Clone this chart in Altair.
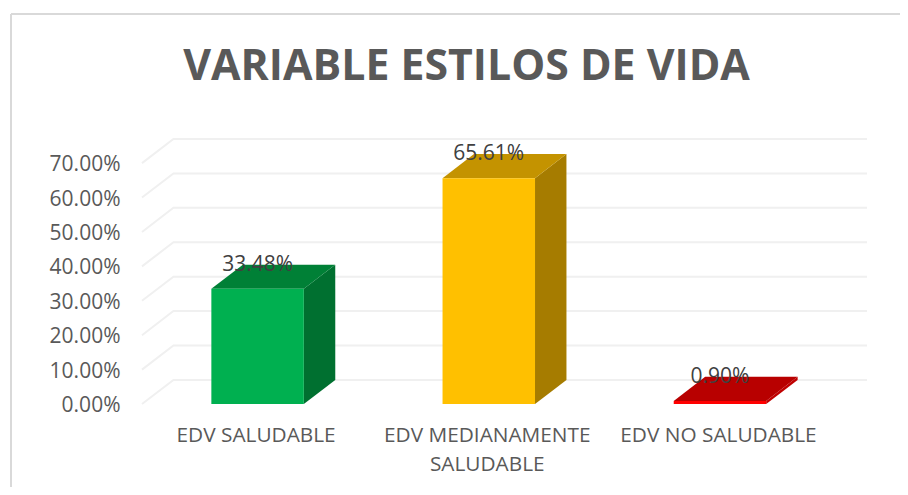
import altair as alt
import pandas as pd

TITLE = "VARIABLE ESTILOS DE VIDA"
categories = [["EDV SALUDABLE"], ["EDV MEDIANAMENTE", "SALUDABLE"], ["EDV NO SALUDABLE"]]
values = [0.3348, 0.6561, 0.0090]
front_colors = ["#00B050", "#FFC000", "#FF0000"]
top_colors = ["#008036", "#C49300", "#B80000"]
side_colors = ["#007030", "#A67C00", "#C00000"]
y_ticks = [0.0, 0.1, 0.2, 0.3, 0.4, 0.5, 0.6, 0.7]

# 3-D look: depth of the floor expressed in axis units
DEPTH_X = 0.136
DEPTH_Y = 0.07
HALF = 0.2
X_MIN, X_MAX = -0.5, 2.5 + DEPTH_X
Y_MAX = 0.70 + DEPTH_Y

xs = alt.Scale(domain=[X_MIN, X_MAX], nice=False, zero=False)
ys = alt.Scale(domain=[0, Y_MAX], nice=False, zero=False)

grid_rows = []
for t in y_ticks:
    grid_rows += [
        {"t": t, "x": X_MIN, "y": t},
        {"t": t, "x": X_MIN + DEPTH_X, "y": t + DEPTH_Y},
        {"t": t, "x": X_MAX, "y": t + DEPTH_Y},
    ]

front, faces, labels = [], [], []
for i, v in enumerate(values):
    x0, x1 = i - HALF, i + HALF
    front.append({"x": x0, "x2": x1, "y": 0, "y2": v, "c": front_colors[i]})
    faces += [
        {"f": f"s{i}", "c": side_colors[i], "x": x1, "y": 0, "y2": v},
        {"f": f"s{i}", "c": side_colors[i], "x": x1 + DEPTH_X, "y": DEPTH_Y, "y2": v + DEPTH_Y},
        {"f": f"t{i}", "c": top_colors[i], "x": x0, "y": v, "y2": v},
        {"f": f"t{i}", "c": top_colors[i], "x": x0 + DEPTH_X, "y": v, "y2": v + DEPTH_Y},
        {"f": f"t{i}", "c": top_colors[i], "x": x1, "y": v, "y2": v + DEPTH_Y},
        {"f": f"t{i}", "c": top_colors[i], "x": x1 + DEPTH_X, "y": v + DEPTH_Y, "y2": v + DEPTH_Y},
    ]
    labels.append({"x": i, "y": v + DEPTH_Y, "v": v})

label_expr = "[" + ",".join(str(c) for c in categories) + "][datum.value]"

x_axis = alt.Axis(
    values=[0, 1, 2], labelExpr=label_expr, domain=False, ticks=False, grid=False,
    labelFontSize=20.8, labelFont="Open Sans", labelColor="#595959",
    labelPadding=21, labelLineHeight=29, labelOverlap=False, labelBound=False, labelFlush=False,
    labelAngle=0, labelLimit=400, labelOffset=-2,
)
y_axis = alt.Axis(
    values=y_ticks, format=".2%", domain=False, ticks=False, grid=False,
    labelFontSize=21, labelFont="Open Sans", labelColor="#595959",
    labelPadding=22, labelOverlap=False, labelOffset=1.5,
)
X = alt.X("x:Q", scale=xs, title=None, axis=x_axis)
Y = alt.Y("y:Q", scale=ys, title=None, axis=y_axis)

grid_layer = (
    alt.Chart(pd.DataFrame(grid_rows))
    .mark_line(color="#F0F0F0", strokeWidth=2)
    .encode(x=X, y=Y, detail="t:N")
)

face_layer = (
    alt.Chart(pd.DataFrame(faces))
    .mark_area(interpolate="linear", opacity=1)
    .encode(x=X, y=Y, y2="y2:Q", color=alt.Color("c:N", scale=None), detail="f:N")
)

front_layer = (
    alt.Chart(pd.DataFrame(front))
    .mark_rect()
    .encode(x=X, x2="x2:Q", y=Y, y2="y2:Q", color=alt.Color("c:N", scale=None))
)

text_layer = (
    alt.Chart(pd.DataFrame(labels))
    .mark_text(font="Open Sans", fontSize=21, color="#404040", baseline="middle", align="center")
    .encode(x=X, y=Y, text=alt.Text("v:Q", format=".2%"))
)

frame_top = alt.Chart(pd.DataFrame({"a": [0]})).mark_rule(color="#D9D9D9", strokeWidth=2).encode(
    x=alt.value(-131), x2=alt.value(766), y=alt.value(-125)
)
frame_left = alt.Chart(pd.DataFrame({"a": [0]})).mark_rule(color="#D9D9D9", strokeWidth=2).encode(
    x=alt.value(-131), y=alt.value(-125), y2=alt.value(356)
)

chart = (
    alt.layer(frame_top, frame_left, grid_layer, face_layer, front_layer, text_layer)
    .properties(
        width=725,
        height=265,
        padding={"left": 134, "top": 131, "right": 33, "bottom": 83},
        autosize=alt.AutoSizeParams(type="none"),
        title=alt.TitleParams(
            TITLE, font="Open Sans", fontSize=42.8, fontWeight="bold", color="#595959",
            anchor="middle", dx=-38, offset=-76,
        ),
    )
    .configure_view(stroke=None)
)

chart.save("out.html", embed_options={"renderer": "svg", "actions": False})
